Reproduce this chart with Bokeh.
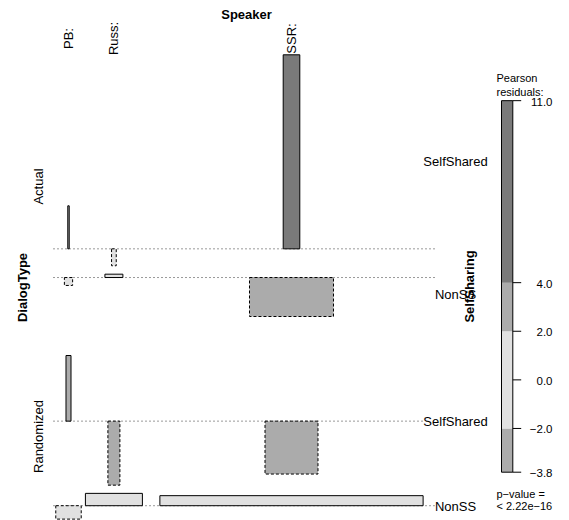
import numpy as np
from bokeh.plotting import figure
from bokeh.models import Range1d
from bokeh.embed import file_html
from bokeh.resources import INLINE
from bokeh.core.properties import value

# ---------------- data ----------------
speakers = ["PB:", "Russ:", "SSR:"]
dialog_types = ["Actual", "Randomized"]
self_sharing = ["SelfShared", "NonSS"]
# cell order (rows): Actual/SelfShared, Actual/NonSS, Randomized/SelfShared, Randomized/NonSS
residuals_pb = [2.44, -0.45, 3.72, -0.76]
residuals_russ = [-0.96, 0.19, -3.63, 0.70]
residuals_ssr = [11.0, -2.21, -3.00, 0.57]
expected_pb = [0.05, 1.7, 0.63, 16.2]
expected_russ = [0.55, 8.1, 3.6, 81.3]
expected_ssr = [6.9, 176.6, 70.3, 1735.0]
legend_breaks = [-3.8, -2.0, 0.0, 2.0, 4.0, 11.0]
legend_labels = ["\u22123.8", "\u22122.0", "0.0", "2.0", "4.0", "11.0"]
pvalue_lines = ["p\u2212value =", "< 2.22e\u221216"]

# ---------------- layout ----------------
FONT = value("Liberation Sans")
res = np.array([residuals_pb, residuals_russ, residuals_ssr]).T      # rows x cols
exp_ = np.array([expected_pb, expected_russ, expected_ssr]).T
HSCALE = 17.64      # px per residual unit
WSCALE = 6.32       # px per sqrt(expected)
col_centers = np.array([68.0, 113.4, 291.0])
row_gaps = [8.4, 39.0, 8.2]
top = 54.3
baselines = []
cur = top
for i in range(4):
    pos = max(0.0, res[i].max())
    neg = max(0.0, -res[i].min())
    b = cur + pos * HSCALE
    baselines.append(b)
    cur = b + neg * HSCALE
    if i < 3:
        cur += row_gaps[i]
baselines = np.array(baselines)

DARK, MED, LIGHT = "#7a7a7a", "#ababab", "#e1e1e1"
def shade(r):
    a = abs(r)
    return DARK if a > 4 else (MED if a > 2 else LIGHT)

p = figure(width=569, height=520, output_backend="svg", toolbar_location=None,
           x_range=Range1d(0, 569), y_range=Range1d(520, 0),
           x_axis_type=None, y_axis_type=None, min_border=0)
p.outline_line_color = None
p.background_fill_color = "white"

# baselines
x_left, x_right = 53.0, 437.0
p.segment(x0=[x_left] * 4, x1=[x_right] * 4, y0=baselines, y1=baselines,
          line_color="#333333", line_width=1, line_dash="1 3")

# bars
for sign, dash in ((1, "solid"), (-1, "3 2")):
    L, R, T, B, C = [], [], [], [], []
    for i in range(4):
        for j in range(3):
            r = res[i, j]
            if (r >= 0) != (sign > 0):
                continue
            w = np.sqrt(exp_[i, j]) * WSCALE
            L.append(col_centers[j] - w / 2)
            R.append(col_centers[j] + w / 2)
            T.append(baselines[i] - r * HSCALE)
            B.append(baselines[i])
            C.append(shade(r))
    p.quad(left=L, right=R, top=T, bottom=B, fill_color=C,
           line_color="black", line_width=1, line_dash=dash)

# top labels
p.text(x=[246], y=[13.5], text=["Speaker"], text_font=FONT, text_font_size="13px",
       text_font_style="bold", text_align="center", text_baseline="middle")
p.text(x=col_centers, y=[38] * 3, text=speakers, text_font=FONT, text_font_size="13px",
       angle=np.pi / 2, text_align="center", text_baseline="middle")

# left labels
p.text(x=[38, 38], y=[186, 436], text=dialog_types, text_font=FONT, text_font_size="13px",
       angle=np.pi / 2, text_align="center", text_baseline="middle")
p.text(x=[21.5], y=[287], text=["DialogType"], text_font=FONT, text_font_size="13px",
       text_font_style="bold", angle=np.pi / 2, text_align="center", text_baseline="middle")

# right labels
p.text(x=[455] * 4, y=[161, 294.3, 421, 505.5], text=self_sharing * 2, text_font=FONT,
       text_font_size="13px", text_align="center", text_baseline="middle",
       background_fill_color="white")
p.text(x=[469], y=[286], text=["SelfSharing"], text_font=FONT, text_font_size="13px",
       text_font_style="bold", angle=np.pi / 2, text_align="center", text_baseline="middle")

# legend
leg_x0, leg_x1 = 501.0, 512.3
leg_bottom = 471.7
def leg_y(v):
    v = np.asarray(v, dtype=float)
    lo = leg_bottom - (np.minimum(v, 4.0) - legend_breaks[0]) * 24.3
    return lo - np.maximum(v - 4.0, 0.0) * 26.0

bands = [(-3.8, -2.0), (-2.0, 2.0), (2.0, 4.0), (4.0, 11.0)]
p.quad(left=[leg_x0] * 4, right=[leg_x1] * 4,
       bottom=[float(leg_y(a)) for a, b in bands], top=[float(leg_y(b)) for a, b in bands],
       fill_color=[shade((a + b) / 2) for a, b in bands], line_color=None)
p.quad(left=[leg_x0], right=[leg_x1], bottom=[float(leg_y(-3.8))], top=[float(leg_y(11.0))],
       fill_color=None, line_color="black", line_width=1)
ty = leg_y(legend_breaks)
p.segment(x0=[leg_x1] * 6, x1=[520.7] * 6, y0=ty, y1=ty, line_color="black", line_width=1)
p.text(x=[552] * 6, y=ty + 1, text=legend_labels, text_font=FONT, text_font_size="11.5px",
       text_align="right", text_baseline="middle")
p.text(x=[496, 496], y=[77.5, 91.5], text=["Pearson", "residuals:"], text_font=FONT,
       text_font_size="11px", text_align="left", text_baseline="alphabetic")
p.text(x=[496, 496], y=[493, 505], text=pvalue_lines, text_font=FONT,
       text_font_size="11px", text_align="left", text_baseline="alphabetic")

open("out.html", "w").write(file_html(p, INLINE))
